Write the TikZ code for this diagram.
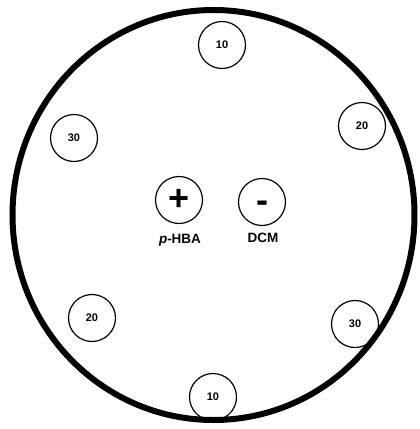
\documentclass[tikz,border=0pt]{standalone}
\usepackage{fontspec}
\setmainfont{Liberation Sans}
\begin{document}
\begin{tikzpicture}[x=1pt,y=-1pt,
  well/.style={circle,draw,line width=1.2pt,minimum size=47pt,inner sep=0pt,font=\bfseries\fontsize{11}{13}\selectfont},
  sign/.style={well,font=\bfseries\fontsize{36}{38}\selectfont},
  lab/.style={font=\bfseries\fontsize{13.5}{15}\selectfont,inner sep=0pt}]
\useasboundingbox (0,0) rectangle (420,429);
\draw[line width=6pt] (213.5,215) ellipse [x radius=201, y radius=205];
\node[well] (t10) at (222,45) {10};
\node[well] (r20) at (362,126) {20};
\node[well] (l30) at (74,138) {30};
\node[well] (l20) at (92,318) {20};
\node[well] (r30) at (355,324) {30};
\node[well] (b10) at (213,397) {10};
\node[sign] (plus) at (179,200) {+};
\node[sign] (minus) at (262,202) {\vphantom{+}-};
\node[lab] (phba) at (180,240) {\textit{p}-HBA};
\node[lab] (dcm) at (263,238) {DCM};
\end{tikzpicture}
\end{document}
